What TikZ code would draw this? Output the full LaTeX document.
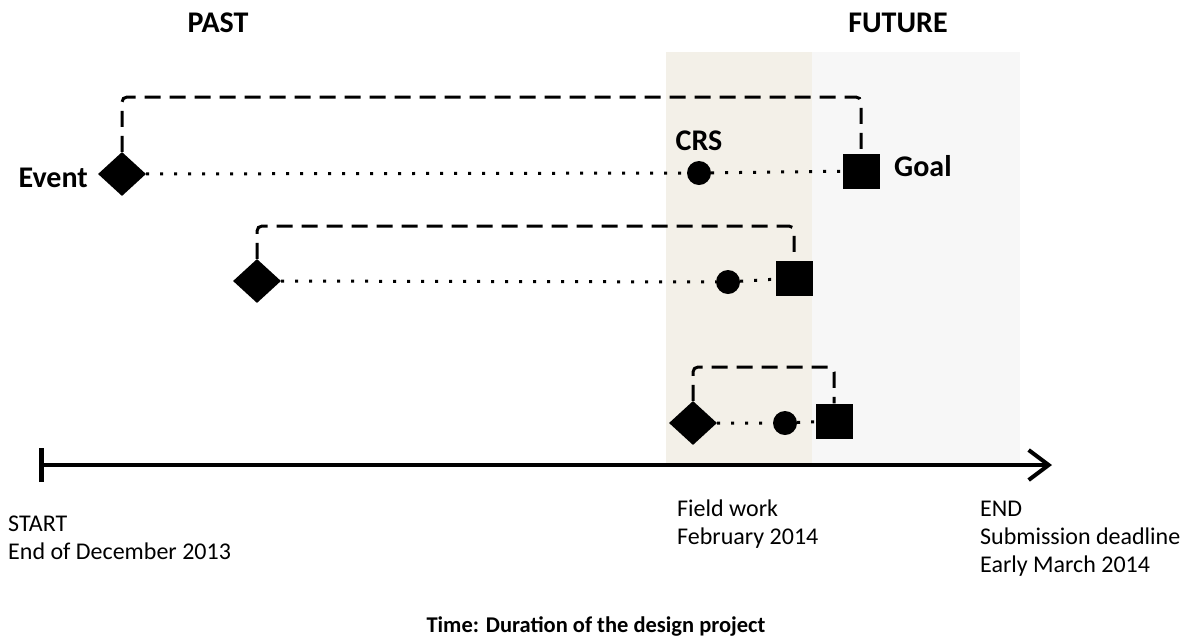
\documentclass[tikz,border=0pt]{standalone}
\usepackage{fontspec}
\setmainfont{Carlito}
\usepackage{tikz}
\usetikzlibrary{shapes.geometric, arrows.meta, positioning, calc}
\definecolor{fieldbg}{HTML}{F3F0E8}
\definecolor{futurebg}{HTML}{F7F7F7}
\tikzstyle{event} = [diamond, fill=black, minimum width=48pt, minimum height=44pt, inner sep=0pt]
\tikzstyle{crs} = [circle, fill=black, minimum size=24pt, inner sep=0pt]
\tikzstyle{goal} = [rectangle, fill=black, minimum width=37pt, minimum height=35pt, inner sep=0pt]
\tikzstyle{bracket} = [line width=3pt, dash pattern=on 16pt off 9pt, rounded corners=5pt]
\tikzstyle{dotline} = [line width=3pt, dash pattern=on 3pt off 11pt]
\tikzstyle{biglabel} = [inner sep=0pt, font=\fontsize{30}{36}\selectfont\bfseries]
\tikzstyle{note} = [inner sep=0pt, align=left, font=\fontsize{24}{28}\selectfont]

\begin{document}
\begin{tikzpicture}[x=1pt, y=-1pt]
    \useasboundingbox (0,0) rectangle (1195,641);

    % shaded periods
    \fill[fieldbg] (666,52) rectangle (812,465);
    \fill[futurebg] (812,52) rectangle (1020,465);

    \node (past) [biglabel, anchor=base] at (218,32) {PAST};
    \node (future) [biglabel, anchor=base] at (898,32) {FUTURE};

    % row 1
    \node (e1) [event] at (122,174) {};
    \node (c1) [crs] at (699,173) {};
    \node (g1) [goal] at (861,171) {};
    \node (evlabel) [biglabel, anchor=base east] at (88,187) {Event};
    \node (crslabel) [biglabel, anchor=base] at (699,150) {CRS};
    \node (goallabel) [biglabel, anchor=base west] at (894,176) {Goal};
    \draw [dotline] (e1) -- (c1) -- (g1);
    \draw [bracket] (e1.north) -- (e1.north |- 0,97) -- (g1.north |- 0,97) -- (g1.north);

    % row 2
    \node (e2) [event] at (257,281) {};
    \node (c2) [crs] at (728,282) {};
    \node (g2) [goal] at (794,278) {};
    \draw [dotline] (e2) -- (c2) -- (g2);
    \draw [bracket] (e2.north) -- (e2.north |- 0,226) -- (g2.north |- 0,226) -- (g2.north);

    % row 3
    \node (e3) [event] at (693,423) {};
    \node (c3) [crs] at (785,423) {};
    \node (g3) [goal] at (834,421) {};
    \draw [dotline] (e3) -- (c3) -- (g3);
    \draw [bracket] (e3.north) -- (e3.north |- 0,367) -- (g3.north |- 0,367) -- (g3.north);

    % time axis
    \coordinate (tstart) at (39,465);
    \coordinate (tend) at (1052,465);
    \draw [line width=4pt, {Bar[width=34pt, line width=5pt]}-{Straight Barb[length=20pt, width=30pt, line width=4pt]}] (tstart) -- (tend);

    % base anchor sits on the last line
    \node (start) [note, anchor=base west] at (8,559) {START\\End of December 2013};
    \node (field) [note, anchor=base west] at (677,544) {Field work\\February 2014};
    \node (end) [note, anchor=base west] at (980,572) {END\\Submission deadline\\Early March 2014};

    \node (title) [inner sep=0pt, anchor=base, font=\fontsize{22.5}{27}\selectfont\bfseries] at (596,632) {Time: Duration of the design project};
\end{tikzpicture}
\end{document}
